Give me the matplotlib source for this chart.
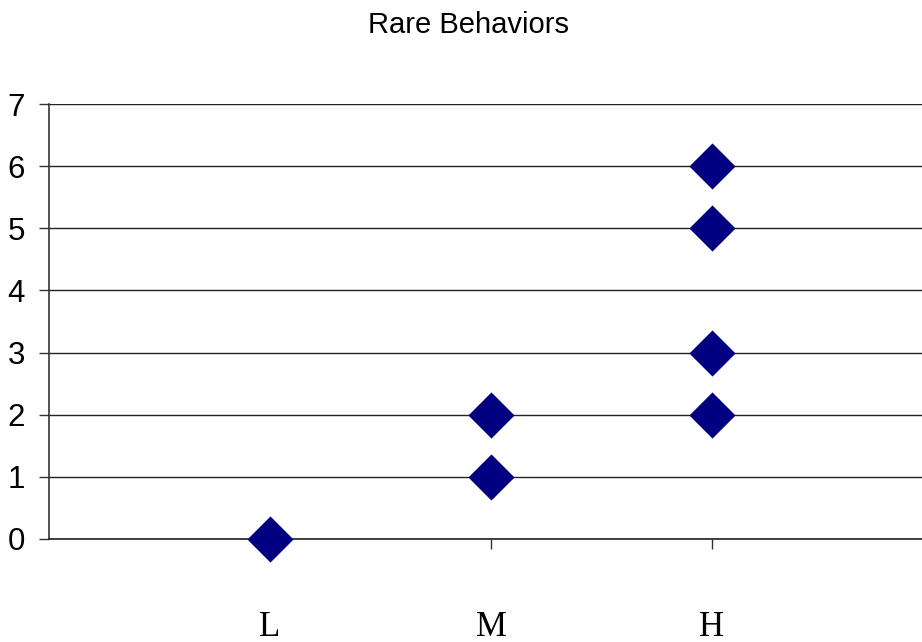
import matplotlib
matplotlib.use("Agg")
import matplotlib.pyplot as plt

# categories on x axis, one column of points per category
categories = ["L", "M", "H"]
cat_pos = [1, 2, 3]

# rare behaviour counts
x_vals = [1, 2, 2, 3, 3, 3, 3]
y_vals = [0, 1, 2, 2, 3, 5, 6]

fig = plt.figure(figsize=(9.22, 6.42), dpi=100)
ax = fig.add_axes([49 / 922, 103 / 642, (933 - 49) / 922, 435 / 642])

ax.scatter(x_vals, y_vals, marker="D", s=23.5 ** 2, color="#000080",
           linewidths=0, zorder=3, clip_on=False)

ax.set_xlim(0, 4)
ax.set_ylim(0, 7)
ax.set_yticks(range(0, 8))
ax.set_xticks(cat_pos)
ax.set_xticklabels(categories, family="Liberation Serif", fontsize=25)
for lab in ax.get_yticklabels():
    lab.set_family("Liberation Sans")
    lab.set_fontsize(22.5)

ax.grid(axis="y", color="#222222", linewidth=1)
ax.set_axisbelow(True)
for side in ["top", "right"]:
    ax.spines[side].set_visible(False)
ax.spines["left"].set_color("#333333")
ax.spines["bottom"].set_color("#222222")
ax.spines["left"].set_linewidth(1.2)
ax.spines["bottom"].set_linewidth(1.2)
ax.tick_params(axis="y", length=7.5, width=1, pad=10, color="#333333")
ax.tick_params(axis="x", length=7.5, width=1, pad=44, color="#333333")

fig.text(468 / 922, 1 - 25 / 642, "Rare Behaviors", ha="center", va="center",
         family="Liberation Sans", fontsize=21)

fig.savefig("out.png", dpi=100)
